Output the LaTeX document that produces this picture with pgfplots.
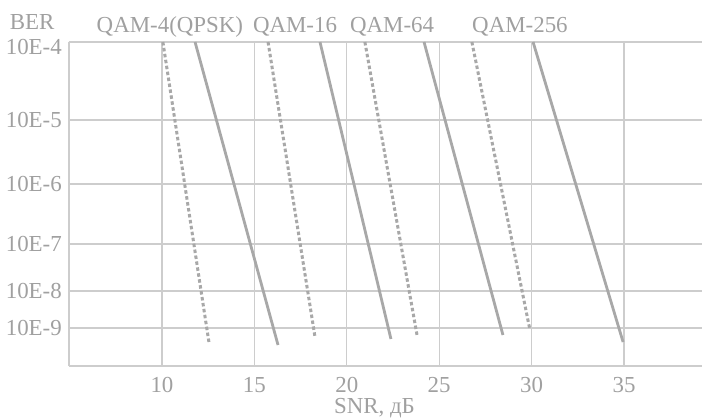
\documentclass[border=0pt]{standalone}
\usepackage{fontspec}
\setmainfont{Liberation Serif}
\usepackage{pgfplots}
\pgfplotsset{compat=1.18}
\definecolor{txt}{HTML}{A0A0A0}
\definecolor{grd}{HTML}{CDCDCD}
\definecolor{crv}{HTML}{A8A8A8}
\begin{document}
\begin{tikzpicture}
\begin{axis}[
  scale only axis, width=633bp, height=324bp,
  at={(0,0)}, anchor=south west,
  xmin=4.97, xmax=39.22, ymin=52, ymax=376,
  axis x line*=box, axis y line*=left,
  xtick={10,15,20,25,30,35},
  ytick={90,127,174,234,298},
  yticklabels={10E-9,10E-8,10E-7,10E-6,10E-5},
  extra y ticks={376},
  extra y tick labels={10E-4},
  extra y tick style={yticklabel style={yshift=-5bp}},
  grid=major, major grid style={grd, line width=1.2bp},
  major tick length=0pt,
  axis line style={grd, line width=1.2bp},
  tick label style={font=\fontsize{23}{25}\selectfont, text=txt},
  /pgf/number format/assume math mode=true,
  yticklabel style={inner sep=0pt, xshift=-7bp},
  xticklabel style={inner sep=0pt, yshift=-11bp},
  clip=false,
]
% QAM-4 (QPSK)
\addplot[crv, line width=3bp, dash pattern=on 3.5bp off 2.5bp] coordinates {(10.05,376) (12.54,76)};
\addplot[crv, line width=2.8bp] coordinates {(11.79,376) (16.28,73)};
% QAM-16
\addplot[crv, line width=3bp, dash pattern=on 3.5bp off 2.5bp] coordinates {(15.74,376) (18.28,81)};
\addplot[crv, line width=2.8bp] coordinates {(18.55,376) (22.39,79)};
% QAM-64
\addplot[crv, line width=3bp, dash pattern=on 3.5bp off 2.5bp] coordinates {(20.98,376) (23.80,83)};
\addplot[crv, line width=2.8bp] coordinates {(24.18,376) (28.45,83)};
% QAM-256
\addplot[crv, line width=3bp, dash pattern=on 3.5bp off 2.5bp] coordinates {(26.77,376) (29.91,88)};
\addplot[crv, line width=2.8bp] coordinates {(30.08,376) (34.95,76)};

\node[text=txt, font=\fontsize{23}{25}\selectfont] at (axis cs:2.97,396) {BER};
\node[text=txt, font=\fontsize{23}{25}\selectfont] at (axis cs:10.43,391) {QAM-4(QPSK)};
\node[text=txt, font=\fontsize{23}{25}\selectfont] at (axis cs:17.2,391) {QAM-16};
\node[text=txt, font=\fontsize{23}{25}\selectfont] at (axis cs:22.45,391) {QAM-64};
\node[text=txt, font=\fontsize{23}{25}\selectfont] at (axis cs:29.37,391) {QAM-256};
\node[text=txt, font=\fontsize{23}{25}\selectfont] at (axis cs:21.5,10) {SNR, дБ};
\end{axis}
\pgfresetboundingbox
\path[use as bounding box] (-69bp,-52bp) rectangle (633bp,366bp);
\end{tikzpicture}
\end{document}
